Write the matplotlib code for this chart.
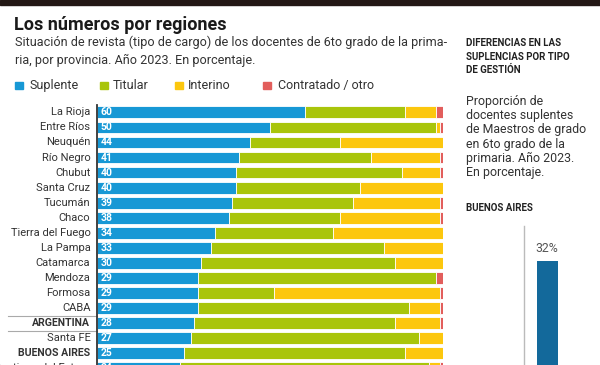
import numpy as np
import matplotlib
matplotlib.use('Agg')
import matplotlib.pyplot as plt
from matplotlib.patches import Rectangle
import matplotlib.transforms as mtransforms

plt.rcParams['font.family'] = ['Roboto', 'DejaVu Sans']

# datos (porcentaje)
provincias = ['La Rioja', 'Entre Ríos', 'Neuquén', 'Río Negro', 'Chubut', 'Santa Cruz',
              'Tucumán', 'Chaco', 'Tierra del Fuego', 'La Pampa', 'Catamarca', 'Mendoza',
              'Formosa', 'CABA', 'ARGENTINA', 'Santa FE', 'BUENOS AIRES', 'Santiago del Estero']
suplente = [60, 50, 44, 41, 40, 40, 39, 38, 34, 33, 30, 29, 29, 29, 28, 27, 25, 24]
titular = [29, 48, 26, 38, 48, 36, 35, 32, 34, 50, 56, 69, 22, 61, 58, 66, 64, 72]
interino = [9, 1, 30, 20, 11, 24, 25, 29, 32, 17, 14, 0, 48, 9, 13, 7, 11, 3]
contratado = [2, 1, 0, 1, 1, 0, 1, 1, 0, 0, 0, 2, 1, 1, 1, 0, 0, 1]
negrita = ['ARGENTINA', 'BUENOS AIRES']

series = ['Suplente', 'Titular', 'Interino', 'Contratado / otro']
colores = ['#1798d5', '#a9c50a', '#fcc70e', '#e25e5c']

ba_label = 'BUENOS AIRES'
ba_suplente = 32

W, H = 600, 365
fig = plt.figure(figsize=(6, 3.65), dpi=100)
fig.patch.set_facecolor('white')

def fx(x):
    return x / W

def fy(y):
    return 1 - y / H

# franja superior oscura
fig.patches.append(Rectangle((0, fy(4.5)), 1, 4.5 / H, transform=fig.transFigure,
                             color='#231815', zorder=0))

# titulos
fig.text(fx(14), fy(24.5), 'Los números por regiones', fontsize=13, fontweight='bold',
         color='#1a1a1a', va='center', ha='left')
sub = ['Situación de revista (tipo de cargo) de los docentes de 6to grado de la prima-',
       'ria, por provincia. Año 2023. En porcentaje.']
for i, t in enumerate(sub):
    fig.text(fx(15), fy(42.5 + i * 18.3), t, fontsize=9.05, color='#333333',
             va='center', ha='left')

# leyenda
leg_sq = [15, 100, 175, 263]
leg_tx = [30, 113, 188, 278]
for s, c, xs, xt in zip(series, colores, leg_sq, leg_tx):
    fig.patches.append(Rectangle((fx(xs), fy(89.3)), 7.7 / W, 7.7 / H,
                                 transform=fig.transFigure, color=c))
    fig.text(fx(xt), fy(85.5), s, fontsize=9, color='#333333', va='center', ha='left')

# grafico principal
x0, x1 = 97.3, 443.3
ytop = 104.8
ax = fig.add_axes([fx(x0), 0, (x1 - x0) / W, fy(ytop)])
n = len(provincias)
ypos = np.arange(n)
izq = np.zeros(n)
for vals, c in zip([suplente, titular, interino, contratado], colores):
    vals = np.array(vals)
    ax.barh(ypos, vals, left=izq, height=0.78, color=c, edgecolor='white', linewidth=0.6)
    izq = izq + vals

ax.set_xlim(0, 100)
ax.set_ylim(-0.5 + (H - ytop) / 15.06, -0.5)
ax.set_xticks([])
ax.set_yticks([])
for sp in ['top', 'right', 'bottom']:
    ax.spines[sp].set_visible(False)
ax.spines['left'].set_color('#333333')
ax.spines['left'].set_linewidth(1.3)

trans = mtransforms.blended_transform_factory(ax.transAxes, ax.transData)
for i, (p, v) in enumerate(zip(provincias, suplente)):
    bold = p in negrita
    ax.text(-0.02, i, p, transform=trans, ha='right', va='center',
            fontsize=7.6 if bold else 8, fontweight='bold' if bold else 'normal',
            color='#333333', clip_on=False)
    ax.text(1.0, i, str(v), ha='left', va='center', fontsize=7.5, fontweight='bold',
            color='white')

idx = provincias.index('ARGENTINA')
for yy in [idx - 0.5, idx + 0.5]:
    ax.plot([-0.258, 0], [yy, yy], transform=trans, color='#aaaaaa', lw=0.8, clip_on=False)

# panel derecho
head = ['DIFERENCIAS EN LAS', 'SUPLENCIAS POR TIPO', 'DE GESTIÓN']
for i, t in enumerate(head):
    fig.text(fx(466), fy(43 + i * 13.7), t, fontsize=7.0, fontweight='bold',
             color='#222222', va='center', ha='left')
body = ['Proporción de', 'docentes suplentes', 'de Maestros de grado',
        'en 6to grado de la', 'primaria. Año 2023.', 'En porcentaje.']
for i, t in enumerate(body):
    fig.text(fx(466), fy(101 + i * 14.4), t, fontsize=8.9, color='#333333',
             va='center', ha='left')
fig.text(fx(466), fy(208), ba_label, fontsize=7.0, fontweight='bold',
         color='#222222', va='center', ha='left')

# mini grafico de barras
bx0, bx1 = 524.3, 600
btop = 226
bh = (261 - btop) / (1 - ba_suplente / 40)
ax2 = fig.add_axes([fx(bx0), fy(btop + bh), (bx1 - bx0) / W, bh / H])
ax2.bar([0.5], [ba_suplente], width=0.46, color='#13699b')
ax2.set_xlim(0, 1.65)
ax2.set_ylim(0, 40)
ax2.text(0.5, ba_suplente + 1.3, f'{ba_suplente}%', ha='center', va='bottom',
         fontsize=8.8, color='#555555')
ax2.set_xticks([])
ax2.set_yticks([])
for sp in ['top', 'right', 'bottom']:
    ax2.spines[sp].set_visible(False)
ax2.spines['left'].set_color('#bbbbbb')
ax2.spines['left'].set_linewidth(1)

fig.savefig('out.png', dpi=100)
